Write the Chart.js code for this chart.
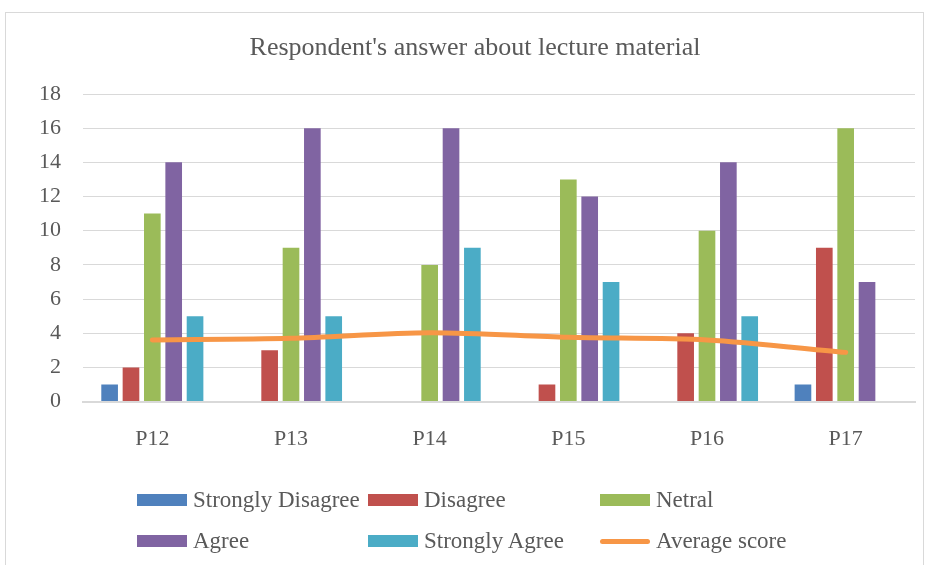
<!DOCTYPE html>
<html>
<head>
<meta charset="utf-8">
<script src="https://cdn.jsdelivr.net/npm/chart.js@4"></script>
<style>
    body { margin: 0; background: #fff; }
    #wrap { position: relative; width: 929px; height: 565px; }
    #frame { position: absolute; left: 5px; top: 12px; width: 919px; height: 560px; border: 1px solid #d9d9d9; box-sizing: border-box; }
    #titulo { position: absolute; left: 0; width: 950px; top: 31px; text-align: center; font-family: 'Liberation Serif', serif; font-size: 26px; line-height: 32px; color: #595959; }
    #legend { position: absolute; left: 137px; top: 485px; display: grid; grid-template-columns: 231px 232px 240px; row-gap: 11px; font-family: 'Liberation Serif', serif; font-size: 23px; color: #595959; }
    .item { display: flex; align-items: center; height: 30px; white-space: nowrap; }
    .swatch { width: 50px; height: 12px; margin-right: 6px; flex: none; }
</style>
</head>
<body>
<div id="wrap">
    <div id="frame"></div>
    <canvas id="grafica" width="929" height="565"></canvas>
    <div id="titulo">Respondent's answer about lecture material</div>
    <div id="legend"></div>
</div>
<script>
const categorias = ['P12', 'P13', 'P14', 'P15', 'P16', 'P17']
const stronglyDisagree = [1, 0, 0, 0, 0, 1]
const disagree = [2, 3, 0, 1, 4, 9]
const netral = [11, 9, 8, 13, 10, 16]
const agree = [14, 16, 16, 12, 14, 7]
const stronglyAgree = [5, 5, 9, 7, 5, 0]
const averageScore = [3.61, 3.70, 4.03, 3.76, 3.61, 2.88]

const colores = {
    'Strongly Disagree': '#4F81BD',
    'Disagree': '#C0504D',
    'Netral': '#9BBB59',
    'Agree': '#8064A2',
    'Strongly Agree': '#4BACC6',
    'Average score': '#F79646'
}

const barra = (label, data) => ({
    type: 'bar',
    label,
    data: data.map(v => v === 0 ? null : v),
    backgroundColor: colores[label],
    order: 1
})

const datasets = [
    barra('Strongly Disagree', stronglyDisagree),
    barra('Disagree', disagree),
    barra('Netral', netral),
    barra('Agree', agree),
    barra('Strongly Agree', stronglyAgree),
    {
        type: 'line',
        label: 'Average score',
        data: averageScore,
        borderColor: colores['Average score'],
        borderWidth: 5,
        borderCapStyle: 'round',
        pointRadius: 0,
        tension: 0.3,
        order: 0
    }
]

const texto = '#595959'
const fuente = 'Liberation Serif'

new Chart(document.getElementById('grafica'), {
    data: { labels: categorias, datasets },
    options: {
        responsive: false,
        animation: false,
        datasets: { bar: { categoryPercentage: 0.77, barPercentage: 0.78 } },
        layout: { padding: { left: 17, right: 14, top: 94, bottom: 89 } },
        plugins: {
            legend: { display: false },
            title: { display: false },
            tooltip: { enabled: false }
        },
        scales: {
            y: {
                min: 0,
                max: 18,
                ticks: { stepSize: 2, color: texto, font: { family: fuente, size: 22 }, padding: 22 },
                grid: { color: '#d9d9d9', drawTicks: false },
                border: { display: false }
            },
            x: {
                ticks: { color: texto, font: { family: fuente, size: 22 }, padding: 24 },
                grid: { display: false, drawTicks: false },
                border: { color: '#d9d9d9', width: 2 }
            }
        }
    }
})

// Leyenda en dos filas
const leyenda = document.getElementById('legend')
datasets.forEach(d => {
    const item = document.createElement('div')
    item.className = 'item'
    const esLinea = d.type === 'line'
    item.innerHTML = `
        <span class="swatch" style="background:${colores[d.label]};${esLinea ? 'height:5px;border-radius:3px;' : ''}"></span>
        <span>${d.label}</span>
    `
    leyenda.appendChild(item)
})
</script>
</body>
</html>
